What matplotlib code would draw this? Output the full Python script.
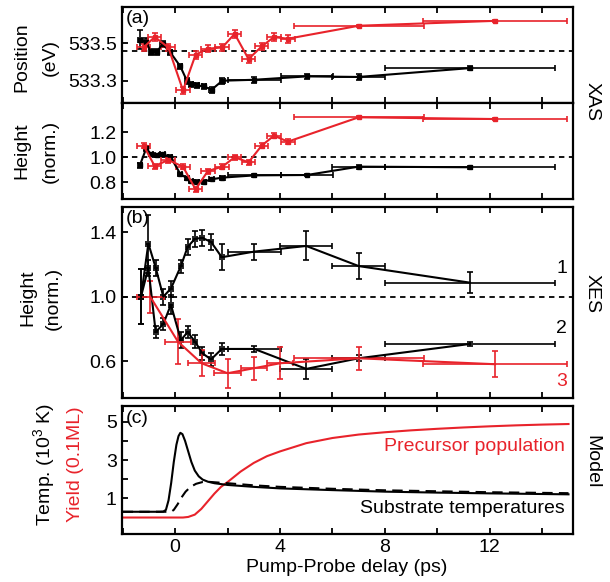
import matplotlib
matplotlib.use("Agg")
import matplotlib.pyplot as plt
from matplotlib.ticker import MultipleLocator, FixedLocator, NullFormatter

plt.rcParams["font.family"] = ["Liberation Sans", "DejaVu Sans"]
plt.rcParams["mathtext.fontset"] = "custom"
plt.rcParams["mathtext.rm"] = "Liberation Sans"

RED = "#e8232b"
BLACK = "#000000"

# ---- (a) XAS: black series (shared delays) ----
t_xas_k = [-1.34, -1.1, -0.92, -0.7, -0.48, -0.18, 0.2, 0.45, 0.62, 0.82,
           1.1, 1.39, 1.8, 3.02, 5.02, 7.0, 11.24]
xe_xas_k = [0.08, 0.08, 0.08, 0.08, 0.08, 0.08, 0.08, 0.08, 0.08, 0.08,
            0.08, 0.08, 0.1, 1.0, 1.0, 1.0, 3.25]
pos_k = [533.517, 533.505, 533.452, 533.452, 533.495, 533.45, 533.376, 533.30,
         533.28, 533.275, 533.27, 533.252, 533.30, 533.305, 533.323, 533.32, 533.367]
pos_k_err = [0.05, 0.02, 0.015, 0.015, 0.015, 0.015, 0.015, 0.015, 0.015, 0.015,
             0.015, 0.015, 0.015, 0.015, 0.015, 0.015, 0.012]
hgt_k = [0.938, 1.072, 1.024, 1.018, 1.024, 1.005, 0.866, 0.832, 0.81, 0.805,
         0.805, 0.824, 0.837, 0.855, 0.858, 0.925, 0.92]
hgt_k_err = [0.02, 0.02, 0.01, 0.01, 0.01, 0.01, 0.01, 0.01, 0.01, 0.01,
             0.01, 0.01, 0.01, 0.01, 0.01, 0.015, 0.012]

# ---- (a) XAS: red series ----
t_xas_r = [-1.2, -0.78, -0.26, 0.3, 0.78, 1.25, 1.8, 2.27, 2.8, 3.3, 3.77, 4.3, 7.0, 12.2]
xe_xas_r = [0.26, 0.26, 0.26, 0.26, 0.26, 0.26, 0.26, 0.26, 0.26, 0.26, 0.26, 0.26, 2.48, 2.75]
pos_r = [533.477, 533.532, 533.477, 533.249, 533.438, 533.47, 533.477, 533.549,
         533.415, 533.482, 533.532, 533.523, 533.592, 533.618]
pos_r_err = [0.02] * 12 + [0.005, 0.005]
hgt_r = [1.093, 0.93, 0.978, 0.925, 0.744, 0.89, 0.925, 1.0, 0.96, 1.093,
         1.173, 1.125, 1.32, 1.306]
hgt_r_err = [0.02] * 12 + [0.008, 0.008]

# ---- (b) XES ----
t_xes_k = [-1.3, -1.02, -0.74, -0.45, -0.16, 0.22, 0.48, 0.76, 1.04, 1.37, 1.78,
           3.02, 5.0, 7.0, 11.24]
xe_xes_k = [0.08] * 11 + [1.0, 1.0, 1.0, 3.25]
xes1 = [1.0, 1.33, 1.18, 1.0, 1.05, 1.19, 1.31, 1.36, 1.365, 1.34, 1.245,
        1.28, 1.315, 1.19, 1.087]
xes1_err = [0.17, 0.18, 0.05, 0.05, 0.05, 0.04, 0.05, 0.05, 0.05, 0.05, 0.08,
            0.05, 0.09, 0.08, 0.065]
xes2 = [1.0, 1.18, 0.78, 0.83, 0.95, 0.73, 0.78, 0.72, 0.648, 0.61, 0.675,
        0.675, 0.551, 0.617, 0.706]
xes2_err = [0.17, 0.05, 0.04, 0.04, 0.06, 0.05, 0.04, 0.04, 0.04, 0.04, 0.04,
            0.02, 0.06, 0.02, 0.015]
t_xes_r = [-0.95, 0.11, 1.01, 2.0, 3.0, 4.0, 7.0, 12.2]
xe_xes_r = [0.52, 0.48, 0.51, 0.5, 0.5, 0.5, 2.48, 2.73]
xes3 = [1.0, 0.72, 0.586, 0.524, 0.555, 0.586, 0.617, 0.58]
xes3_err = [0.1, 0.14, 0.08, 0.09, 0.07, 0.1, 0.07, 0.08]

# ---- (c) Model curves ----
t_temp1 = [-2.0, -0.6, -0.45, -0.35, -0.25, -0.15, -0.05, 0.05, 0.13, 0.2, 0.28,
           0.38, 0.5, 0.62, 0.75, 0.9, 1.05, 1.25, 1.5, 2.0, 3.0, 4.0, 6.0, 8.0,
           10.0, 12.0, 15.0]
temp1 = [0.3, 0.3, 0.31, 0.4, 0.9, 1.8, 2.9, 3.8, 4.25, 4.42, 4.35,
         4.0, 3.45, 2.9, 2.45, 2.15, 1.98, 1.87, 1.79, 1.7, 1.6, 1.52, 1.43, 1.35,
         1.3, 1.26, 1.21]
t_temp2 = [-2.0, -0.15, -0.05, 0.1, 0.22, 0.4, 0.59, 0.8, 1.04, 1.3, 2.0, 3.0,
           4.0, 6.0, 8.0, 10.0, 12.0, 15.0]
temp2 = [0.3, 0.3, 0.4, 0.7, 1.0, 1.35, 1.6, 1.76, 1.85, 1.86, 1.79, 1.68,
         1.6, 1.5, 1.42, 1.37, 1.32, 1.27]
t_yield = [-2.0, 0.3, 0.5, 0.75, 1.0, 1.25, 1.5, 1.75, 2.0, 2.5, 3.0, 3.5, 4.0,
           5.0, 6.0, 7.0, 8.0, 9.0, 10.0, 11.0, 12.0, 13.0, 14.0, 15.0]
yield_ = [0.0, 0.0, 0.03, 0.15, 0.45, 0.85, 1.25, 1.6, 1.85, 2.4, 2.85, 3.2, 3.45,
          3.88, 4.15, 4.33, 4.45, 4.55, 4.63, 4.7, 4.76, 4.81, 4.85, 4.88]

XLIM = (-2.04, 15.16)
W, H = 610, 582
L, R = 121.6, 572.7


def add_axes(fig, top, bottom):
    return fig.add_axes([L / W, 1 - bottom / H, (R - L) / W, (bottom - top) / H])


def style(ax, show_xlabels=False):
    ax.set_xlim(*XLIM)
    ax.xaxis.set_major_locator(MultipleLocator(4))
    ax.xaxis.set_minor_locator(MultipleLocator(2))
    ax.tick_params(which="both", direction="in", top=True, right=False,
                   length=4, width=1.3, labelsize=14)
    if not show_xlabels:
        ax.xaxis.set_major_formatter(NullFormatter())
    for s in ax.spines.values():
        s.set_linewidth(1.6)


def eb(ax, t, y, xe, ye, color, ms=3):
    ax.errorbar(t, y, xerr=xe, yerr=ye, color=color, marker="s", ms=ms,
                lw=1.5, elinewidth=1.2, capsize=2, capthick=1.2)


fig = plt.figure(figsize=(W / 100, H / 100), dpi=100)

# (a) position
ax1 = add_axes(fig, 7.3, 103.3)
ax1.axhline(533.46, color="k", ls=(0, (3, 2.5)), lw=1.3)
eb(ax1, t_xas_k, pos_k, xe_xas_k, pos_k_err, BLACK, ms=2.5)
eb(ax1, t_xas_r, pos_r, xe_xas_r, pos_r_err, RED)
ax1.set_ylim(533.18, 533.69)
ax1.yaxis.set_major_locator(FixedLocator([533.3, 533.5]))
ax1.yaxis.set_major_formatter(plt.FuncFormatter(lambda v, p: f"{v:.1f}"))
style(ax1)
ax1.text(0.01, 0.97, "(a)", transform=ax1.transAxes, ha="left", va="top", fontsize=14)

# (a) height
ax2 = add_axes(fig, 103.3, 199)
ax2.axhline(1.0, color="k", ls=(0, (3, 2.5)), lw=1.3)
eb(ax2, t_xas_k, hgt_k, xe_xas_k, hgt_k_err, BLACK, ms=3.5)
eb(ax2, t_xas_r, hgt_r, xe_xas_r, hgt_r_err, RED)
ax2.set_ylim(0.666, 1.432)
ax2.yaxis.set_major_locator(FixedLocator([0.8, 1.0, 1.2]))
ax2.yaxis.set_major_formatter(plt.FuncFormatter(lambda v, p: f"{v:.1f}"))
style(ax2)

# (b) XES
ax3 = add_axes(fig, 206.7, 397.7)
ax3.axhline(1.0, color="k", ls=(0, (3, 2.5)), lw=1.3)
eb(ax3, t_xes_k, xes1, xe_xes_k, xes1_err, BLACK, ms=0)
eb(ax3, t_xes_k, xes2, xe_xes_k, xes2_err, BLACK, ms=0)
eb(ax3, t_xes_r, xes3, xe_xes_r, xes3_err, RED, ms=0)
ax3.set_ylim(0.372, 1.559)
ax3.yaxis.set_major_locator(FixedLocator([0.6, 1.0, 1.4]))
ax3.yaxis.set_major_formatter(plt.FuncFormatter(lambda v, p: f"{v:.1f}"))
style(ax3)
ax3.text(0.01, 0.985, "(b)", transform=ax3.transAxes, ha="left", va="top", fontsize=14)
ax3.text(14.74, 1.177, "1", ha="center", va="center", fontsize=14)
ax3.text(14.74, 0.803, "2", ha="center", va="center", fontsize=14)
ax3.text(14.74, 0.471, "3", ha="center", va="center", fontsize=14, color=RED)

# (c) model
ax4 = add_axes(fig, 406, 534)
ax4.plot(t_yield, yield_, color=RED, lw=1.5)
ax4.plot(t_temp2, temp2, color=BLACK, lw=1.5, ls=(0, (5, 3)))
ax4.plot(t_temp1, temp1, color=BLACK, lw=1.5)
ax4.set_ylim(-0.86, 5.82)
ax4.yaxis.set_major_locator(FixedLocator([1, 3, 5]))
ax4.yaxis.set_minor_locator(FixedLocator([2, 4]))
style(ax4, show_xlabels=True)
ax4.text(0.01, 0.97, "(c)", transform=ax4.transAxes, ha="left", va="top", fontsize=14)
ax4.text(14.85, 3.69, "Precursor population", ha="right", va="center",
         fontsize=14, color=RED)
ax4.text(14.85, 0.49, "Substrate temperatures", ha="right", va="center",
         fontsize=14, color=BLACK)
ax4.set_xlabel("Pump-Probe delay (ps)", fontsize=14, labelpad=2)


def ftext(x, y, s, **kw):
    fig.text(x / W, 1 - y / H, s, rotation=90, ha="center", va="center",
             fontsize=14, **kw)


ftext(22, 57, "Position")
ftext(50, 57, "(eV)")
ftext(22, 151, "Height")
ftext(50, 151, "(norm.)")
ftext(28, 298, "Height")
ftext(53, 298, "(norm.)")
ftext(45, 465, r"Temp. (10$^3$ K)")
ftext(76, 464, "Yield (0.1ML)", color=RED)

for y, s in [(102, "XAS"), (294, "XES"), (462, "Model")]:
    fig.text(592 / W, 1 - y / H, s, rotation=270, ha="center", va="center",
             fontsize=14)

fig.savefig("out.png", dpi=100)
